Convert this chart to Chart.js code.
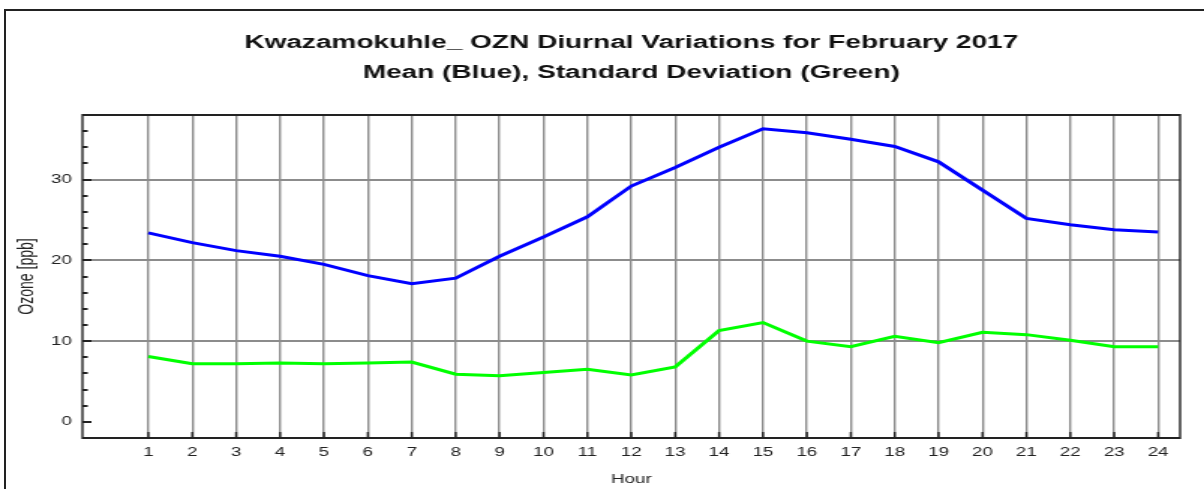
<!DOCTYPE html>
<html>
<head>
<meta charset="utf-8">
<script src="https://cdn.jsdelivr.net/npm/chart.js@4"></script>
<style>
    html, body { margin: 0; padding: 0; background: #fff; overflow: hidden; }
    #frame { position: absolute; left: 4px; top: 9px; width: 1400px; height: 700px; border: 2px solid #222; box-sizing: border-box; }
    /* the source picture is stretched sideways, so the chart is drawn narrow and widened */
    #stretch { position: absolute; left: 0; top: 0; width: 803px; height: 489px; transform: scaleX(1.4994); transform-origin: 0 0; }
</style>
</head>
<body>
<div id="frame"></div>
<div id="stretch">
    <canvas id="chart" width="803" height="489"></canvas>
</div>
<script>
// Diurnal ozone values
const hours = [1, 2, 3, 4, 5, 6, 7, 8, 9, 10, 11, 12, 13, 14, 15, 16, 17, 18, 19, 20, 21, 22, 23, 24];
const meanOzone = [23.4, 22.2, 21.2, 20.5, 19.5, 18.1, 17.1, 17.8, 20.5, 22.9, 25.4, 29.2,
    31.5, 34.0, 36.3, 35.8, 35.0, 34.1, 32.2, 28.7, 25.2, 24.4, 23.8, 23.5];
const stdOzone = [8.1, 7.2, 7.2, 7.3, 7.2, 7.3, 7.4, 5.9, 5.7, 6.1, 6.5, 5.8,
    6.8, 11.3, 12.3, 10.0, 9.3, 10.6, 9.8, 11.1, 10.8, 10.1, 9.3, 9.3];
const yLabels = [0, 10, 20, 30];

const titleLines = [
    'Kwazamokuhle_ OZN Diurnal Variations for February 2017',
    'Mean (Blue), Standard Deviation (Green)'
];

const FONT = '"Liberation Sans", Arial, sans-serif';
const GRID = '#8c8c8c';

// frame round the plot area plus the short inward tick marks
const frameTicks = {
    id: 'frameTicks',
    afterDraw(chart) {
        const { ctx, chartArea } = chart;
        const { left, right, top, bottom } = chartArea;
        const xs = chart.scales.x;
        const ys = chart.scales.y;
        ctx.save();
        ctx.strokeStyle = '#222';

        // horizontal pieces
        ctx.lineWidth = 2;
        ctx.beginPath();
        ys.ticks.forEach(t => {
            const y = Math.round(ys.getPixelForValue(t.value));
            const len = t.value % 10 === 0 ? 6 : 3.5;
            ctx.moveTo(left, y);
            ctx.lineTo(left + len, y);
        });
        ctx.moveTo(left, top);
        ctx.lineTo(right, top);
        ctx.moveTo(left, bottom);
        ctx.lineTo(right, bottom);
        ctx.stroke();

        // vertical pieces
        ctx.lineWidth = 1.4;
        ctx.beginPath();
        xs.ticks.forEach(t => {
            const x = xs.getPixelForValue(t.value);
            ctx.moveTo(x, bottom);
            ctx.lineTo(x, bottom - 6);
        });
        ctx.moveTo(left, top - 1);
        ctx.lineTo(left, bottom + 1);
        ctx.moveTo(right, top - 1);
        ctx.lineTo(right, bottom + 1);
        ctx.stroke();
        ctx.restore();
    }
};

new Chart(document.getElementById('chart'), {
    type: 'line',
    data: {
        labels: hours,
        datasets: [
            {
                label: 'Mean',
                data: hours.map((h, i) => ({ x: h, y: meanOzone[i] })),
                borderColor: '#0000ff',
                borderWidth: 3,
                pointRadius: 0,
                tension: 0
            },
            {
                label: 'Standard Deviation',
                data: hours.map((h, i) => ({ x: h, y: stdOzone[i] })),
                borderColor: '#00ff00',
                borderWidth: 3,
                pointRadius: 0,
                tension: 0
            }
        ]
    },
    options: {
        responsive: false,
        animation: false,
        layout: { padding: { left: 2, right: 16, top: 0, bottom: 2 } },
        plugins: {
            legend: { display: false },
            tooltip: { enabled: false },
            title: {
                display: true,
                fullSize: false,
                text: titleLines,
                color: '#111',
                font: { family: FONT, size: 18.7, weight: 'bold', lineHeight: 30 / 18.7 },
                padding: { top: 28, bottom: 27 }
            }
        },
        scales: {
            x: {
                type: 'linear',
                min: -0.5,
                max: 24.5,
                afterBuildTicks: axis => { axis.ticks = hours.map(v => ({ value: v })); },
                grid: { color: GRID, lineWidth: 1.4, drawTicks: false },
                border: { display: false },
                ticks: {
                    color: '#222',
                    padding: 7,
                    autoSkip: false,
                    maxRotation: 0,
                    font: { family: FONT, size: 12.5 }
                },
                title: {
                    display: true,
                    text: 'Hour',
                    color: '#222',
                    font: { family: FONT, size: 12.5 },
                    padding: { top: 5, bottom: 0 }
                }
            },
            y: {
                min: -2,
                max: 38,
                afterBuildTicks: axis => {
                    const t = [];
                    for (let v = -2; v <= 38; v += 2) t.push({ value: v });
                    axis.ticks = t;
                },
                grid: {
                    color: c => (yLabels.includes(c.tick.value) && c.tick.value !== 0) ? GRID : 'rgba(0,0,0,0)',
                    lineWidth: 2,
                    drawTicks: false
                },
                border: { display: false },
                ticks: {
                    color: '#222',
                    padding: 7,
                    autoSkip: false,
                    font: { family: FONT, size: 12.5 },
                    callback: v => yLabels.includes(v) ? String(v) : ''
                },
                title: {
                    display: true,
                    text: 'Ozone [ppb]',
                    color: '#222',
                    font: { family: FONT, size: 14 },
                    padding: { top: 7.5, bottom: 0.8 }
                }
            }
        }
    },
    plugins: [frameTicks]
});
</script>
</body>
</html>
